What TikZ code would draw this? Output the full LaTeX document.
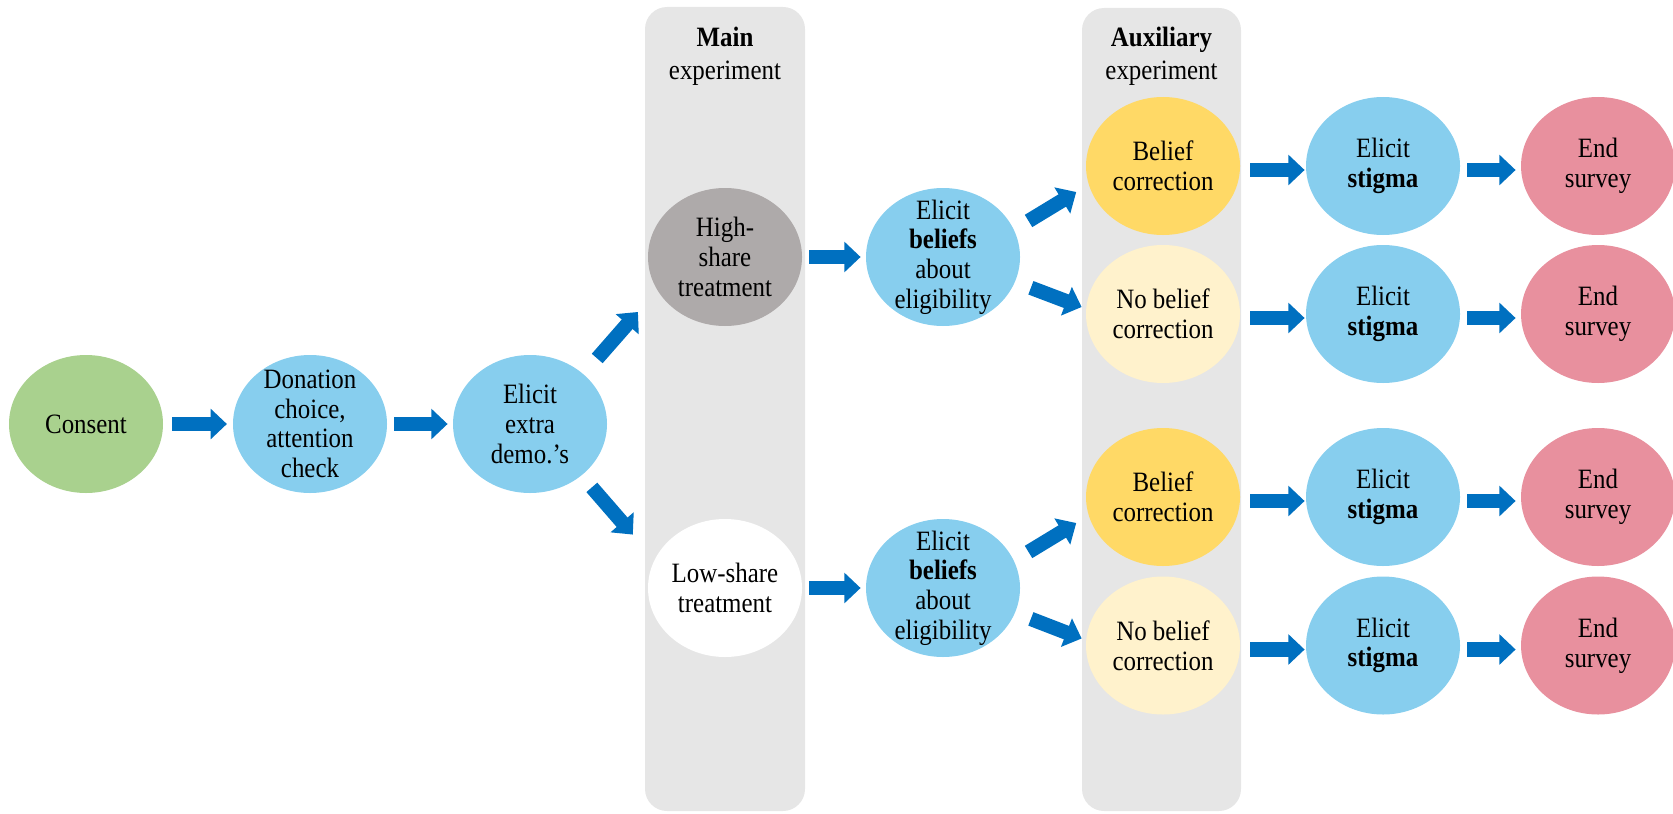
\documentclass[tikz,border=0pt]{standalone}
\usepackage{fontspec}
\setmainfont{Liberation Serif}[FakeStretch=0.89]
\usetikzlibrary{shapes.geometric,arrows.meta}
\definecolor{consentgreen}{RGB}{169,209,142}
\definecolor{elicitblue}{RGB}{135,206,238}
\definecolor{highgray}{RGB}{174,170,170}
\definecolor{panelgray}{RGB}{230,230,230}
\definecolor{corryellow}{RGB}{255,217,102}
\definecolor{nocorryellow}{RGB}{255,242,204}
\definecolor{endpink}{RGB}{232,144,158}
\definecolor{arrowblue}{RGB}{0,112,192}

\begin{document}
\begin{tikzpicture}[x=0.5pt, y=-0.5pt,
    stage/.style={ellipse, minimum width=77pt, minimum height=69pt, inner sep=-15pt,
      align=center, font=\fontsize{14}{14.8}\selectfont},
    flow/.style={draw=arrowblue, line width=7.2pt, -{Triangle[width=14.85pt,length=8.15pt]},
      shorten <=3.5pt, shorten >=2.5pt},
    panel/.style={fill=panelgray, rounded corners=11pt},
    panelhead/.style={align=center, font=\fontsize{14}{16.5}\selectfont}]

  \useasboundingbox (0,0) rectangle (1673,813);

  % --- Hintergrund: die beiden Experimente ---
  \fill[panel] (645,7) rectangle (805,811);
  \fill[panel] (1082,8) rectangle (1241,811);
  \node[panelhead] (mainhead) at (725,56) {\textbf{Main}\\experiment};
  \node[panelhead] (auxhead) at (1161.5,56) {\textbf{Auxiliary}\\experiment};

  % --- Einstieg ---
  \node[stage, fill=consentgreen] (consent) at (86,424) {Consent};
  \node[stage, fill=elicitblue] (donation) at (310,424) {Donation\\choice,\\attention\\check};
  \node[stage, fill=elicitblue] (extra) at (530,424) {Elicit\\extra\\demo.’s};

  % --- Treatments ---
  \node[stage, fill=highgray] (high) at (725,257) {High-\\share\\treatment};
  \node[stage, fill=white] (low) at (725,588) {Low-share\\treatment};

  % --- Beliefs ---
  \node[stage, fill=elicitblue] (belhigh) at (943,257) {Elicit\\\textbf{beliefs}\\about\\eligibility};
  \node[stage, fill=elicitblue] (bellow) at (943,588) {Elicit\\\textbf{beliefs}\\about\\eligibility};

  % --- Korrektur ---
  \node[stage, fill=corryellow] (corr1) at (1163,166) {Belief\\correction};
  \node[stage, fill=nocorryellow] (nocorr1) at (1163,314) {No belief\\correction};
  \node[stage, fill=corryellow] (corr2) at (1163,497) {Belief\\correction};
  \node[stage, fill=nocorryellow] (nocorr2) at (1163,645.5) {No belief\\correction};

  % Pfeile
  \draw[flow, shorten <=4.35pt, shorten >=2.85pt] (consent) -- (donation);
  \draw[flow] (donation) -- (extra);
  \draw[flow, shorten <=10.3pt, shorten >=14.5pt] (extra.43.8) -- (high.206.3);
  \draw[flow, shorten <=7.75pt, shorten >=16.5pt] (extra.-45.4) -- (low.158.1);
  \draw[flow] (high) -- (belhigh);
  \draw[flow] (low) -- (bellow);
  \draw[flow, shorten <=8.4pt, shorten >=7.15pt] (belhigh.21.4) -- (corr1.194.2);
  \draw[flow, shorten <=8.35pt, shorten >=2.25pt] (belhigh.-19.5) -- (nocorr1.176.2);
  \draw[flow, shorten <=8.4pt, shorten >=7.15pt] (bellow.21.4) -- (corr2.194.2);
  \draw[flow, shorten <=8.35pt, shorten >=2.25pt] (bellow.-19.5) -- (nocorr2.176.2);

  % --- Stigma und Ende, je Zeile ---
  \foreach \r/\y in {corr1/166, nocorr1/314, corr2/497, nocorr2/645.5} {
    \node[stage, fill=elicitblue] (stig-\r) at (1383,\y) {Elicit\\\textbf{stigma}};
    \node[stage, fill=endpink] (end-\r) at (1598,\y) {End\\survey};
    \draw[flow, transform canvas={yshift=-2pt}, shorten <=5pt, shorten >=0.5pt] (\r) -- (stig-\r);
    \draw[flow, transform canvas={yshift=-2pt}] (stig-\r) -- (end-\r);
  }

\end{tikzpicture}
\end{document}
